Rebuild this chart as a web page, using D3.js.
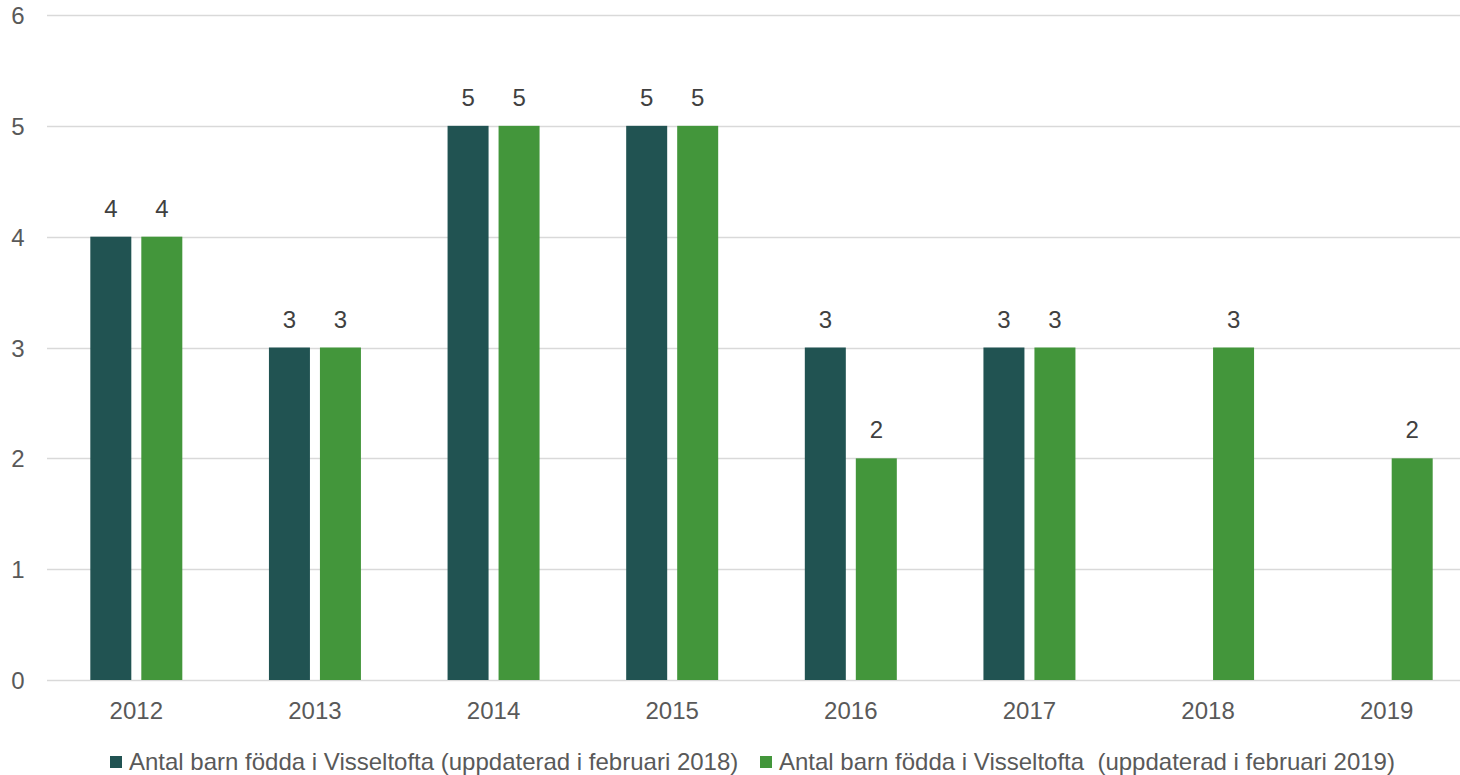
<!DOCTYPE html>
<html><head><meta charset="utf-8">
<script src="https://cdn.jsdelivr.net/npm/d3@7"></script>
<style>
html,body{margin:0;padding:0;background:#fff;}
svg text{font-family:"Liberation Sans",Arial,sans-serif;}
</style></head>
<body>
<svg id="chart" width="1460" height="775"></svg>
<script>
const categories = ["2012","2013","2014","2015","2016","2017","2018","2019"];
const series2018 = [4,3,5,5,3,3,null,null];
const series2019 = [4,3,5,5,2,3,3,2];
const seriesNames = ["Antal barn födda i Visseltofta (uppdaterad i februari 2018)",
                     "Antal barn födda i Visseltofta  (uppdaterad i februari 2019)"];
const yTicks = [0,1,2,3,4,5,6];
const colors = ["#215352","#43963b"];

const svg = d3.select("#chart");
const x = d3.scaleBand().domain(categories).range([47,1476]).padding(0);
const y = d3.scaleLinear().domain([0,6]).range([680,15]);

// gridlines
svg.append("g").selectAll("line").data(yTicks).join("line")
  .attr("x1",47).attr("x2",1476)
  .attr("y1",d=>Math.round(y(d))+0.5).attr("y2",d=>Math.round(y(d))+0.5)
  .attr("stroke","#d9d9d9").attr("stroke-width",1.5);

// y labels
svg.append("g").selectAll("text").data(yTicks).join("text")
  .attr("x",18).attr("y",d=>y(d)+9)
  .attr("text-anchor","middle").attr("font-size",24).attr("fill","#595959")
  .text(d=>d);

// x labels
svg.append("g").selectAll("text").data(categories).join("text")
  .attr("x",d=>x(d)+x.bandwidth()/2).attr("y",719)
  .attr("text-anchor","middle").attr("font-size",24).attr("fill","#595959")
  .text(d=>d);

const barW = 41, gap = 5;
const allSeries = [series2018, series2019];
allSeries.forEach((s,i)=>{
  const data = categories.map((c,j)=>({c, v:s[j]})).filter(d=>d.v!=null);
  const off = i===0 ? -gap-barW : gap;
  const g = svg.append("g");
  g.selectAll("rect").data(data).join("rect")
    .attr("x",d=>x(d.c)+x.bandwidth()/2+off)
    .attr("y",d=>y(d.v))
    .attr("width",barW)
    .attr("height",d=>y(0)-y(d.v))
    .attr("fill",colors[i]);
  g.selectAll("text").data(data).join("text")
    .attr("x",d=>x(d.c)+x.bandwidth()/2+off+barW/2)
    .attr("y",d=>y(d.v)-20)
    .attr("text-anchor","middle").attr("font-size",24).attr("fill","#404040")
    .text(d=>d.v);
});

// legend
const legX = [110,760];
seriesNames.forEach((n,i)=>{
  svg.append("rect").attr("x",legX[i]).attr("y",756).attr("width",12).attr("height",12).attr("fill",colors[i]);
  svg.append("text").attr("x",legX[i]+19).attr("y",770).attr("font-size",24).attr("fill","#595959")
    .attr("xml:space","preserve").style("white-space","pre").text(n);
});
</script>
</body></html>
